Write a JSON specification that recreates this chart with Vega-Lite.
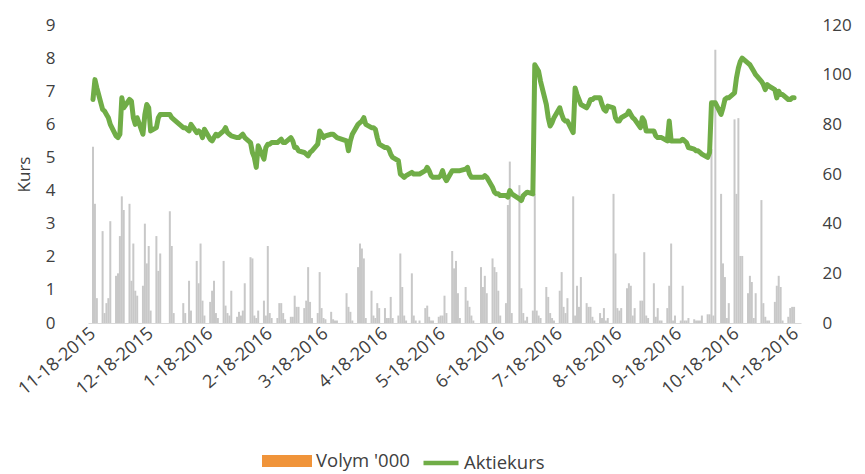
{
  "$schema": "https://vega.github.io/schema/vega-lite/v6.json",
  "width": 713,
  "height": 298,
  "autosize": {"type": "none"},
  "padding": {"left": 88, "top": 25, "right": 64, "bottom": 151},
  "background": "white",
  "config": {"view": {"stroke": null}, "font": "Open Sans"},
  "datasets": {
    "d": [
      {"t":"2015-11-18","p":6.75,"v":71},{"t":"2015-11-19","p":7.35,"v":48},{"t":"2015-11-20","p":7.1,"v":10},
      {"t":"2015-11-23","p":6.45,"v":37},{"t":"2015-11-24","p":6.4,"v":4},{"t":"2015-11-25","p":6.3,"v":8},{"t":"2015-11-26","p":6.2,"v":10},{"t":"2015-11-27","p":6.0,"v":41},
      {"t":"2015-11-30","p":5.65,"v":19},{"t":"2015-12-01","p":5.6,"v":20},{"t":"2015-12-02","p":5.7,"v":35},{"t":"2015-12-03","p":6.8,"v":51},{"t":"2015-12-04","p":6.5,"v":45.5},
      {"t":"2015-12-07","p":6.75,"v":48},{"t":"2015-12-08","p":6.7,"v":17},{"t":"2015-12-09","p":6.2,"v":32},{"t":"2015-12-10","p":6.0,"v":13},{"t":"2015-12-11","p":6.2,"v":11},
      {"t":"2015-12-14","p":5.7,"v":15},{"t":"2015-12-15","p":6.3,"v":40},{"t":"2015-12-16","p":6.6,"v":24},{"t":"2015-12-17","p":6.5,"v":31},{"t":"2015-12-18","p":5.8,"v":5},
      {"t":"2015-12-21","p":5.9,"v":35},{"t":"2015-12-22","p":6.2,"v":21},{"t":"2015-12-23","p":6.3,"v":28},
      {"t":"2015-12-28","p":6.3,"v":45},{"t":"2015-12-29","p":6.2,"v":31},{"t":"2015-12-30","p":6.15,"v":4},
      {"t":"2016-01-04","p":5.9,"v":8},{"t":"2016-01-05","p":5.9,"v":4},{"t":"2016-01-07","p":5.8,"v":17},{"t":"2016-01-08","p":6.0,"v":5},
      {"t":"2016-01-11","p":5.75,"v":25},{"t":"2016-01-12","p":5.8,"v":16},{"t":"2016-01-13","p":5.75,"v":32},{"t":"2016-01-14","p":5.6,"v":9},{"t":"2016-01-15","p":5.85,"v":3},
      {"t":"2016-01-18","p":5.55,"v":8.5},{"t":"2016-01-19","p":5.5,"v":13},{"t":"2016-01-20","p":5.6,"v":17},{"t":"2016-01-21","p":5.7,"v":4},{"t":"2016-01-22","p":5.65,"v":2},
      {"t":"2016-01-25","p":5.8,"v":25},{"t":"2016-01-26","p":5.9,"v":7},{"t":"2016-01-27","p":5.75,"v":4},{"t":"2016-01-28","p":5.7,"v":3},{"t":"2016-01-29","p":5.65,"v":13},
      {"t":"2016-02-01","p":5.6,"v":2.5},{"t":"2016-02-02","p":5.6,"v":4.5},{"t":"2016-02-03","p":5.65,"v":3},{"t":"2016-02-04","p":5.7,"v":5},{"t":"2016-02-05","p":5.6,"v":16},
      {"t":"2016-02-08","p":5.45,"v":26.5},{"t":"2016-02-09","p":5.15,"v":26},{"t":"2016-02-10","p":5.0,"v":3},{"t":"2016-02-11","p":4.7,"v":2},{"t":"2016-02-12","p":5.35,"v":5},
      {"t":"2016-02-15","p":4.95,"v":9},{"t":"2016-02-16","p":5.3,"v":3},{"t":"2016-02-17","p":5.4,"v":31},{"t":"2016-02-18","p":5.4,"v":4},{"t":"2016-02-19","p":5.45,"v":2},
      {"t":"2016-02-22","p":5.45,"v":2},{"t":"2016-02-23","p":5.5,"v":8},{"t":"2016-02-24","p":5.55,"v":8},{"t":"2016-02-25","p":5.45,"v":4},{"t":"2016-02-26","p":5.45,"v":1.5},
      {"t":"2016-02-29","p":5.6,"v":2.5},{"t":"2016-03-01","p":5.5,"v":2.5},{"t":"2016-03-02","p":5.3,"v":11},{"t":"2016-03-03","p":5.3,"v":6.5},{"t":"2016-03-04","p":5.2,"v":6.5},
      {"t":"2016-03-07","p":5.15,"v":6},{"t":"2016-03-08","p":5.1,"v":9},{"t":"2016-03-09","p":5.05,"v":22.5},{"t":"2016-03-10","p":5.15,"v":8.5},{"t":"2016-03-11","p":5.2,"v":2},
      {"t":"2016-03-14","p":5.4,"v":4},{"t":"2016-03-15","p":5.8,"v":20.5},{"t":"2016-03-16","p":5.7,"v":6},{"t":"2016-03-17","p":5.6,"v":2},{"t":"2016-03-18","p":5.65,"v":1.5},
      {"t":"2016-03-21","p":5.7,"v":4.5},{"t":"2016-03-22","p":5.7,"v":1.5},{"t":"2016-03-23","p":5.65,"v":1},{"t":"2016-03-24","p":5.6,"v":1},
      {"t":"2016-03-29","p":5.5,"v":12},{"t":"2016-03-30","p":5.2,"v":6.5},{"t":"2016-03-31","p":5.5,"v":4.5},{"t":"2016-04-01","p":5.7,"v":1},
      {"t":"2016-04-04","p":6.0,"v":22.5},{"t":"2016-04-05","p":6.05,"v":32},{"t":"2016-04-06","p":6.1,"v":30},{"t":"2016-04-07","p":6.2,"v":26},{"t":"2016-04-08","p":6.0,"v":2},
      {"t":"2016-04-11","p":5.9,"v":13},{"t":"2016-04-12","p":5.9,"v":3},{"t":"2016-04-13","p":5.85,"v":2},{"t":"2016-04-14","p":5.6,"v":8},{"t":"2016-04-15","p":5.4,"v":6},
      {"t":"2016-04-18","p":5.3,"v":6},{"t":"2016-04-19","p":5.3,"v":2},{"t":"2016-04-20","p":5.25,"v":2},{"t":"2016-04-21","p":5.1,"v":10.5},{"t":"2016-04-22","p":5.0,"v":2},
      {"t":"2016-04-25","p":4.9,"v":3},{"t":"2016-04-26","p":4.5,"v":28},{"t":"2016-04-27","p":4.45,"v":14.5},{"t":"2016-04-28","p":4.4,"v":3},{"t":"2016-04-29","p":4.45,"v":1},
      {"t":"2016-05-02","p":4.55,"v":20},{"t":"2016-05-03","p":4.5,"v":3},{"t":"2016-05-04","p":4.5,"v":1},{"t":"2016-05-06","p":4.5,"v":1},
      {"t":"2016-05-09","p":4.6,"v":6},{"t":"2016-05-10","p":4.7,"v":7},{"t":"2016-05-11","p":4.6,"v":2.5},{"t":"2016-05-12","p":4.45,"v":1},{"t":"2016-05-13","p":4.4,"v":1},
      {"t":"2016-05-16","p":4.4,"v":2.5},{"t":"2016-05-17","p":4.45,"v":3},{"t":"2016-05-18","p":4.6,"v":3},{"t":"2016-05-19","p":4.4,"v":11},{"t":"2016-05-20","p":4.3,"v":4},
      {"t":"2016-05-23","p":4.6,"v":29},{"t":"2016-05-24","p":4.6,"v":22},{"t":"2016-05-25","p":4.6,"v":25},{"t":"2016-05-26","p":4.6,"v":12},{"t":"2016-05-27","p":4.6,"v":2},
      {"t":"2016-05-30","p":4.65,"v":14.5},{"t":"2016-05-31","p":4.7,"v":9},{"t":"2016-06-01","p":4.5,"v":6.5},{"t":"2016-06-02","p":4.4,"v":3},{"t":"2016-06-03","p":4.4,"v":1},
      {"t":"2016-06-07","p":4.4,"v":22.5},{"t":"2016-06-08","p":4.4,"v":14.5},{"t":"2016-06-09","p":4.45,"v":19},{"t":"2016-06-10","p":4.4,"v":12},
      {"t":"2016-06-13","p":4.1,"v":26},{"t":"2016-06-14","p":3.95,"v":22.5},{"t":"2016-06-15","p":3.9,"v":20.5},{"t":"2016-06-16","p":3.9,"v":13},{"t":"2016-06-17","p":3.85,"v":3},
      {"t":"2016-06-20","p":3.85,"v":8},{"t":"2016-06-21","p":3.8,"v":47.5},{"t":"2016-06-22","p":4.0,"v":65},{"t":"2016-06-23","p":3.9,"v":4},
      {"t":"2016-06-27","p":3.75,"v":55.5},{"t":"2016-06-28","p":3.7,"v":14},{"t":"2016-06-29","p":3.85,"v":4},{"t":"2016-06-30","p":3.9,"v":1},{"t":"2016-07-01","p":3.95,"v":2.5},
      {"t":"2016-07-04","p":3.9,"v":5},{"t":"2016-07-05","p":7.8,"v":52},{"t":"2016-07-06","p":7.7,"v":5},{"t":"2016-07-07","p":7.6,"v":3},{"t":"2016-07-08","p":7.3,"v":2},
      {"t":"2016-07-11","p":6.6,"v":14.5},{"t":"2016-07-12","p":6.2,"v":10.5},{"t":"2016-07-13","p":5.95,"v":4},{"t":"2016-07-14","p":6.05,"v":2},{"t":"2016-07-15","p":6.2,"v":1},
      {"t":"2016-07-18","p":6.5,"v":13},{"t":"2016-07-19","p":6.3,"v":20.5},{"t":"2016-07-20","p":6.15,"v":6.5},{"t":"2016-07-21","p":6.1,"v":4},{"t":"2016-07-22","p":6.1,"v":10},
      {"t":"2016-07-25","p":5.75,"v":51},{"t":"2016-07-26","p":7.1,"v":3},{"t":"2016-07-27","p":6.9,"v":15},{"t":"2016-07-28","p":6.75,"v":6.5},{"t":"2016-07-29","p":6.6,"v":18.5},
      {"t":"2016-08-01","p":6.5,"v":8},{"t":"2016-08-02","p":6.6,"v":6.5},{"t":"2016-08-03","p":6.75,"v":6.5},{"t":"2016-08-04","p":6.75,"v":2.5},{"t":"2016-08-05","p":6.8,"v":1},
      {"t":"2016-08-08","p":6.8,"v":4},{"t":"2016-08-09","p":6.6,"v":2},{"t":"2016-08-10","p":6.45,"v":6},{"t":"2016-08-11","p":6.4,"v":1},{"t":"2016-08-12","p":6.55,"v":2},
      {"t":"2016-08-15","p":6.5,"v":52},{"t":"2016-08-16","p":6.2,"v":28},{"t":"2016-08-17","p":6.1,"v":6},{"t":"2016-08-18","p":6.1,"v":5},{"t":"2016-08-19","p":6.2,"v":6},
      {"t":"2016-08-22","p":6.3,"v":14},{"t":"2016-08-23","p":6.4,"v":16},{"t":"2016-08-24","p":6.3,"v":15},{"t":"2016-08-25","p":6.2,"v":3},{"t":"2016-08-26","p":6.15,"v":6},
      {"t":"2016-08-29","p":5.9,"v":9},{"t":"2016-08-30","p":6.2,"v":9},{"t":"2016-08-31","p":6.1,"v":28.5},{"t":"2016-09-01","p":5.8,"v":3},{"t":"2016-09-02","p":5.8,"v":2},
      {"t":"2016-09-05","p":5.8,"v":16},{"t":"2016-09-06","p":5.65,"v":2.5},{"t":"2016-09-07","p":5.6,"v":6},{"t":"2016-09-08","p":5.6,"v":1},{"t":"2016-09-09","p":5.6,"v":1},
      {"t":"2016-09-12","p":5.5,"v":6},{"t":"2016-09-13","p":6.1,"v":15},{"t":"2016-09-14","p":5.5,"v":32},{"t":"2016-09-15","p":5.5,"v":1},{"t":"2016-09-16","p":5.5,"v":3},
      {"t":"2016-09-19","p":5.5,"v":1},{"t":"2016-09-20","p":5.55,"v":15},{"t":"2016-09-21","p":5.5,"v":1},{"t":"2016-09-22","p":5.45,"v":1},{"t":"2016-09-23","p":5.3,"v":2},
      {"t":"2016-09-26","p":5.25,"v":1.5},{"t":"2016-09-27","p":5.2,"v":1},{"t":"2016-09-28","p":5.2,"v":1},{"t":"2016-09-29","p":5.15,"v":1},{"t":"2016-09-30","p":5.1,"v":3},
      {"t":"2016-10-03","p":5.0,"v":3.5},{"t":"2016-10-04","p":5.15,"v":3.5},{"t":"2016-10-05","p":6.65,"v":70},{"t":"2016-10-06","p":6.65,"v":3},{"t":"2016-10-07","p":6.65,"v":110},
      {"t":"2016-10-10","p":6.3,"v":52},{"t":"2016-10-11","p":6.5,"v":24},{"t":"2016-10-12","p":6.75,"v":18.5},{"t":"2016-10-13","p":6.8,"v":2},{"t":"2016-10-14","p":6.8,"v":8},
      {"t":"2016-10-17","p":6.95,"v":82},{"t":"2016-10-18","p":7.4,"v":52},{"t":"2016-10-19","p":7.7,"v":82.5},{"t":"2016-10-20","p":7.9,"v":27},{"t":"2016-10-21","p":8.0,"v":27},
      {"t":"2016-10-24","p":7.85,"v":12},{"t":"2016-10-25","p":7.8,"v":19},{"t":"2016-10-26","p":7.7,"v":16.5},{"t":"2016-10-27","p":7.6,"v":2},{"t":"2016-10-28","p":7.5,"v":12},
      {"t":"2016-10-31","p":7.3,"v":49.5},{"t":"2016-11-01","p":7.2,"v":8},{"t":"2016-11-02","p":7.05,"v":2.5},{"t":"2016-11-03","p":7.2,"v":1},{"t":"2016-11-04","p":7.15,"v":1},
      {"t":"2016-11-07","p":7.05,"v":8.5},{"t":"2016-11-08","p":6.8,"v":15},{"t":"2016-11-09","p":7.0,"v":19},{"t":"2016-11-10","p":6.9,"v":14.5},{"t":"2016-11-11","p":6.9,"v":1},
      {"t":"2016-11-14","p":6.75,"v":2.5},{"t":"2016-11-15","p":6.75,"v":6},{"t":"2016-11-16","p":6.8,"v":6.5},{"t":"2016-11-17","p":6.8,"v":6.5}
    ]
  },
  "data": {"name": "d"},
  "encoding": {
    "x": {
      "field": "t",
      "type": "temporal",
      "scale": {
        "type": "utc",
        "domain": [
          {"year": 2015, "month": 11, "date": 18, "utc": true},
          {"year": 2016, "month": 11, "date": 18, "utc": true}
        ]
      },
      "axis": {
        "title": null,
        "values": [
          {"year": 2015, "month": 11, "date": 18, "utc": true},
          {"year": 2015, "month": 12, "date": 18, "utc": true},
          {"year": 2016, "month": 1, "date": 18, "utc": true},
          {"year": 2016, "month": 2, "date": 18, "utc": true},
          {"year": 2016, "month": 3, "date": 18, "utc": true},
          {"year": 2016, "month": 4, "date": 18, "utc": true},
          {"year": 2016, "month": 5, "date": 18, "utc": true},
          {"year": 2016, "month": 6, "date": 18, "utc": true},
          {"year": 2016, "month": 7, "date": 18, "utc": true},
          {"year": 2016, "month": 8, "date": 18, "utc": true},
          {"year": 2016, "month": 9, "date": 18, "utc": true},
          {"year": 2016, "month": 10, "date": 18, "utc": true},
          {"year": 2016, "month": 11, "date": 18, "utc": true}
        ],
        "format": "%-m-%d-%Y",
        "labelAngle": -40,
        "labelAlign": "right",
        "labelBaseline": "middle",
        "labelFontSize": 18,
        "labelColor": "#404040",
        "labelPadding": 8,
        "labelOverlap": false,
        "labelFlush": false,
        "ticks": false,
        "grid": false,
        "domainColor": "#d9d9d9",
        "domainWidth": 1
      }
    }
  },
  "layer": [
    {
      "mark": {"type": "bar", "color": "#c8c8c8", "size": 2},
      "encoding": {
        "y": {
          "field": "v",
          "type": "quantitative",
          "scale": {"domain": [0, 120], "nice": false},
          "axis": {
            "orient": "right",
            "title": null,
            "values": [0, 20, 40, 60, 80, 100, 120],
            "labelFontSize": 17,
            "labelColor": "#404040",
            "labelPadding": 21,
            "ticks": false,
            "domain": false,
            "grid": false
          }
        }
      }
    },
    {
      "mark": {"type": "line", "strokeWidth": 5, "strokeJoin": "round", "strokeCap": "round"},
      "encoding": {
        "y": {
          "field": "p",
          "type": "quantitative",
          "scale": {"domain": [0, 9], "nice": false},
          "axis": {
            "orient": "left",
            "title": "Kurs",
            "titleFontSize": 17,
            "titleFontWeight": "normal",
            "titleColor": "#404040",
            "titlePadding": 12,
            "values": [0, 1, 2, 3, 4, 5, 6, 7, 8, 9],
            "labelFontSize": 17,
            "labelColor": "#404040",
            "labelPadding": 33,
            "ticks": false,
            "domain": false,
            "grid": false
          }
        },
        "stroke": {
          "datum": "Aktiekurs",
          "type": "nominal",
          "scale": {"domain": ["Aktiekurs"], "range": ["#70ad47"]},
          "legend": {
            "title": null,
            "orient": "none",
            "legendX": 333,
            "legendY": 418,
            "symbolType": "stroke",
            "symbolSize": 1225,
            "symbolStrokeWidth": 4.5,
            "labelFontSize": 18.5,
            "labelColor": "#404040",
            "labelOffset": 3
          }
        }
      }
    },
    {
      "transform": [{"filter": "false"}],
      "mark": {"type": "bar"},
      "encoding": {
        "fill": {
          "datum": "Volym '000",
          "type": "nominal",
          "scale": {"domain": ["Volym '000"], "range": ["#f0943a"]},
          "legend": {
            "title": null,
            "orient": "none",
            "legendX": 174,
            "legendY": 411,
            "symbolType": "M-1,-0.24H1V0.24H-1Z",
            "symbolSize": 2500,
            "symbolStrokeWidth": 0,
            "labelFontSize": 18.5,
            "labelColor": "#404040",
            "labelOffset": 4
          }
        }
      }
    }
  ],
  "resolve": {"scale": {"y": "independent"}}
}
